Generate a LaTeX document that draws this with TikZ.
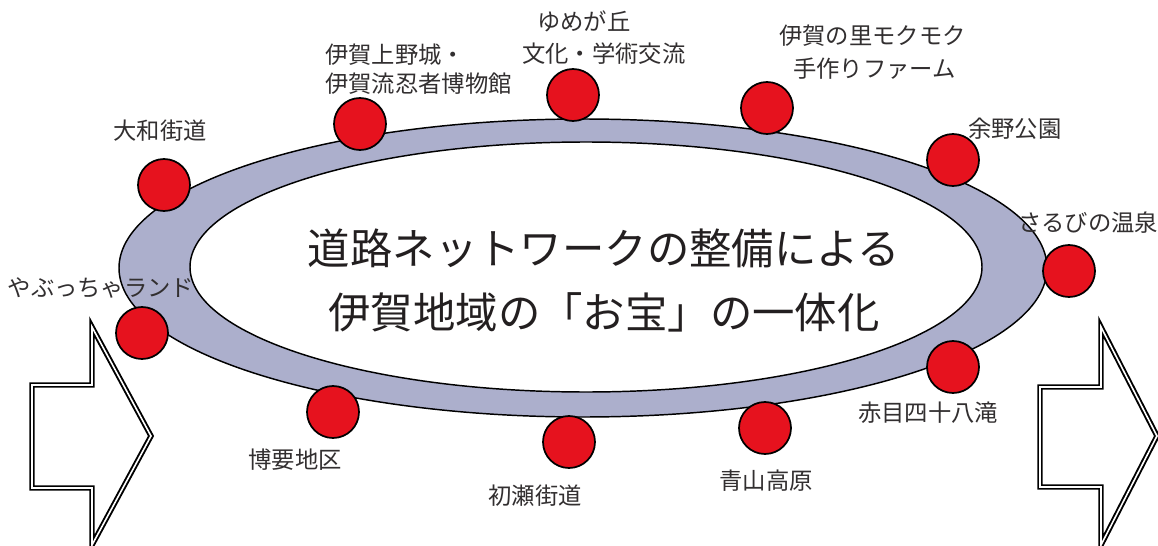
\documentclass[tikz,border=0pt]{standalone}
\usepackage{fontspec}
\setmainfont{Noto Sans CJK JP}
\definecolor{band}{RGB}{172,175,204}
\definecolor{spot}{RGB}{230,18,30}
\definecolor{txt}{RGB}{50,47,48}
\definecolor{maintxt}{RGB}{35,31,32}
\tikzset{
  spotnode/.style={circle, draw=black, line width=1.3pt, fill=spot, minimum size=39pt, inner sep=0pt},
  lbl/.style={text=txt, font=\fontsize{17.5pt}{21pt}\selectfont, inner sep=0pt, anchor=base},
  lblw/.style={lbl, anchor=base west},
  maintext/.style={text=maintxt, font=\fontsize{31.8pt}{36pt}\selectfont, inner sep=0pt, anchor=base},
  bigarrow/.style={draw=black, line width=1.45pt, double=white, double distance=1.2pt, line join=miter}
}
\begin{document}
\begin{tikzpicture}[x=0.75pt,y=-0.75pt]
\useasboundingbox (0,0) rectangle (1158,546);
% ring
\draw[line width=1.1pt, fill=band] (583,268) ellipse [x radius=464, y radius=149];
\draw[line width=1.1pt, fill=white] (586,267) ellipse [x radius=396, y radius=125];
% arrows
\draw[bigarrow] (32,385) -- (92,385) -- (92,327) -- (151,436) -- (92,545) -- (92,488) -- (32,488) -- cycle;
\draw[bigarrow] (1040,387) -- (1101,387) -- (1101,327) -- (1157,436) -- (1101,545) -- (1101,487) -- (1040,487) -- cycle;
% spots
\node[spotnode] (c1) at (164,185) {};
\node[spotnode] (c2) at (142,333) {};
\node[spotnode] (c3) at (360,124) {};
\node[spotnode] (c4) at (573,95) {};
\node[spotnode] (c5) at (767,108) {};
\node[spotnode] (c6) at (953,160) {};
\node[spotnode] (c7) at (1069,271) {};
\node[spotnode] (c8) at (953,367) {};
\node[spotnode] (c9) at (765,428) {};
\node[spotnode] (c10) at (569,442) {};
\node[spotnode] (c11) at (333,412) {};
% labels
\node[lbl] (l1) at (160,139) {大和街道};
\node[lbl] (l2) at (101,296) {やぶっちゃランド};
\node[lblw] (l3a) at (325,63) {伊賀上野城・};
\node[lblw] (l3b) at (325,92) {伊賀流忍者博物館};
\node[lblw] (l4a) at (537,31) {ゆめが丘};
\node[lblw] (l4b) at (522,62) {文化・学術交流};
\node[lblw] (l5a) at (779,44) {伊賀の里モクモク};
\node[lblw] (l5b) at (793,77) {手作りファーム};
\node[lblw] (l6) at (968,137) {余野公園};
\node[lblw] (l7) at (1018,231) {さるびの温泉};
\node[lbl] (l8) at (928,421) {赤目四十八滝};
\node[lbl] (l9) at (766,489) {青山高原};
\node[lbl] (l10) at (535,504) {初瀬街道};
\node[lbl] (l11) at (295,468) {博要地区};
% main text
\node[maintext] (m1) at (604,264) {道路ネットワークの整備による};
\node[maintext] (m2) at (604,328) {伊賀地域の「お宝」の一体化};
\end{tikzpicture}
\end{document}
